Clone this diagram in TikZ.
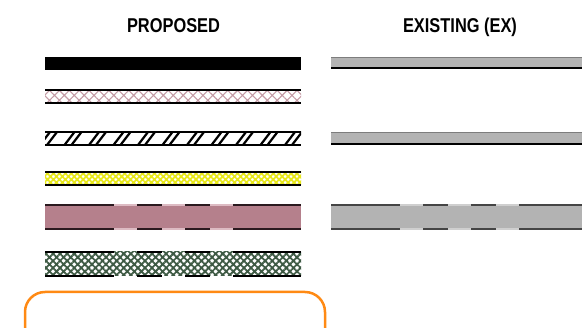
\documentclass[tikz,border=0pt]{standalone}
\usepackage{fontspec}
\setmainfont{Liberation Sans}
\newfontfamily\narrowfont[FakeStretch=0.82]{Liberation Sans}
\usetikzlibrary{patterns.meta}
\definecolor{exgray}{HTML}{B3B3B3}
\definecolor{exdark}{HTML}{454545}
\definecolor{exlight}{HTML}{CFCFCF}
\definecolor{pinkhatch}{HTML}{C49BA5}
\definecolor{yellowhatch}{HTML}{E8E81A}
\definecolor{greenhatch}{HTML}{3E5A44}
\definecolor{mauve}{HTML}{B5808C}
\definecolor{mauvedark}{HTML}{2B1A1F}
\definecolor{mauvelight}{HTML}{DDBBC3}
\definecolor{orangeline}{HTML}{FF8A14}

\begin{document}
\begin{tikzpicture}[x=1pt,y=-1pt,
  title/.style={font=\narrowfont\bfseries\fontsize{20}{24}\selectfont,inner sep=0pt,anchor=base},
  edge/.style={line width=1.5pt},
  gaps/.style={dash pattern=on 69pt off 23pt on 25pt off 23pt on 25pt off 23pt on 300pt}]
  \useasboundingbox (0,0) rectangle (582,328);
  \clip (0,0) rectangle (582,328);

  \node[title] (prop) at (173.5,33) {PROPOSED};
  \node[title] (exist) at (460,33) {EXISTING (EX)};

  % proposed
  \fill[black] (45,57) rectangle (301,70);

  \fill[pattern={Hatch[angle=45,distance=7pt,line width=1.1pt]},pattern color=pinkhatch] (45,90) rectangle (301,103);
  \draw[edge] (45,90) -- (301,90) (45,103) -- (301,103);

  \begin{scope}
    \clip (45,132) rectangle (301,145);
    \foreach \i in {0,...,10}
      \draw[line width=2.2pt] (40+24.5*\i,145) -- ++(10,-13) (47+24.5*\i,145) -- ++(10,-13);
  \end{scope}
  \draw[edge] (45,132) -- (301,132) (45,145) -- (301,145);

  \fill[pattern={Hatch[angle=45,distance=4.2pt,line width=1.8pt]},pattern color=yellowhatch] (45,172) rectangle (301,185);
  \draw[edge] (45,172) -- (301,172) (45,185) -- (301,185);

  \fill[mauve] (45,205) rectangle (301,229);
  \draw[edge,mauvelight] (45,205) -- (301,205) (45,229) -- (301,229);
  \draw[edge,mauvedark,gaps] (45,205) -- (301,205) (45,229) -- (301,229);

  \fill[pattern={Hatch[angle=45,distance=5pt,line width=1.8pt]},pattern color=greenhatch] (45,252) rectangle (301,276);
  \draw[edge,gaps] (45,252) -- (301,252) (45,276) -- (301,276);

  \draw[orangeline,line width=2.5pt,rounded corners=20pt] (25,292) rectangle (325,370);

  % existing
  \fill[exgray] (331,57) rectangle (582,68);
  \draw[exgray!70!black,line width=0.6pt] (331,57) -- (582,57);
  \draw[edge] (331,68) -- (582,68);

  \fill[exgray] (331,132) rectangle (582,144);
  \draw[exgray!70!black,line width=0.6pt] (331,132) -- (582,132);
  \draw[edge] (331,144) -- (582,144);

  \fill[exgray] (331,205) rectangle (582,229);
  \draw[edge,exlight] (331,205) -- (582,205) (331,229) -- (582,229);
  \draw[edge,exdark,gaps] (331,205) -- (582,205) (331,229) -- (582,229);
\end{tikzpicture}
\end{document}
